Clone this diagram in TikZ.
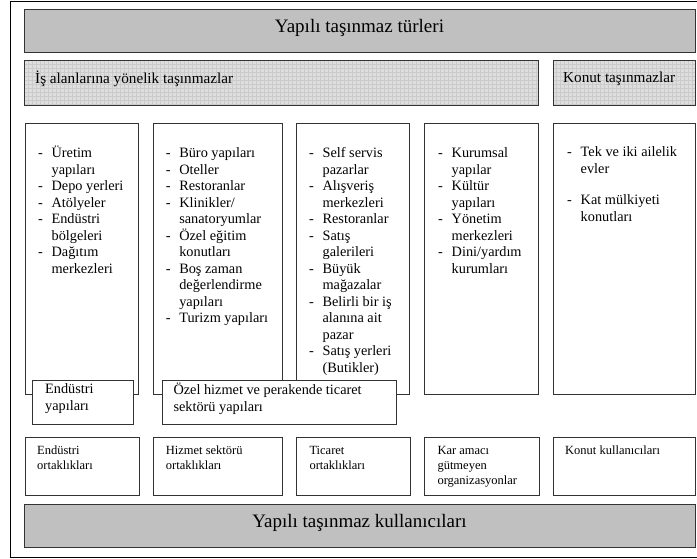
\documentclass[tikz,border=0pt]{standalone}
\usepackage{fontspec}
\setmainfont{Liberation Serif}
\definecolor{titlegray}{HTML}{C0C0C0}
\definecolor{gridgray}{HTML}{DEDEDE}
\definecolor{gridln}{HTML}{CBCBCB}
\newlength\lind
\lind=13.5pt
\newcommand\li[1]{\makebox[\lind][l]{-}#1}
\newcommand\lc[1]{\hspace*{\lind}#1}
\newcommand\bigst{\rule{0pt}{13pt}}
\newcommand\smst{\rule{0pt}{11pt}}
\begin{document}
\begin{tikzpicture}[x=1pt,y=-1pt,
  box/.style={draw=black!80, line width=0.8pt, fill=white, inner sep=0pt, outer sep=0pt, anchor=north west},
  titlebox/.style={box, fill=titlegray},
  gridbox/.style={fill=gridgray, inner sep=0pt, outer sep=0pt, anchor=north west},
  boxline/.style={draw=black!80, line width=0.8pt},
  gridline/.style={draw=gridln, line width=0.4pt},
  bigtxt/.style={font=\fontsize{19}{22}\selectfont, inner sep=0pt, anchor=base},
  rowtxt/.style={font=\fontsize{15.2}{18}\selectfont, inner sep=0pt, anchor=base west},
  listtxt/.style={font=\fontsize{14.3}{16.5}\selectfont, inner sep=0pt, anchor=north west, align=left},
  overtxt/.style={font=\fontsize{14.3}{17}\selectfont, inner sep=0pt, anchor=north west, align=left},
  smalltxt/.style={font=\fontsize{12.5}{14.8}\selectfont, inner sep=0pt, anchor=north west, align=left},
]
\useasboundingbox (0,0) rectangle (697,559);
% outer frame (right side is cut off in the reference)
\draw[line width=0.9pt] (697,1) -- (10,1) -- (10,557) -- (697,557);

% top title
\node[titlebox, minimum width=671pt, minimum height=43pt] (top) at (24,9) {};
\node[bigtxt] (toptxt) at (359.5,32.5) {Yapılı taşınmaz türleri};

% second row with grid fill
\node[gridbox, minimum width=514pt, minimum height=45pt] (is) at (24,60) {};
\node[gridbox, minimum width=142pt, minimum height=45pt] (konut) at (553,60) {};
\begin{scope}
  \clip (is.south west) rectangle (is.north east);
  \draw[gridline] (is.south west) grid[step=4pt] (is.north east);
\end{scope}
\begin{scope}
  \clip (konut.south west) rectangle (konut.north east);
  \draw[gridline] (konut.south west) grid[step=4pt] (konut.north east);
\end{scope}
\draw[boxline] (is.north west) rectangle (is.south east);
\draw[boxline] (konut.north west) rectangle (konut.south east);
\node[rowtxt] (istxt) at (35,83.5) {İş alanlarına yönelik taşınmazlar};
\node[rowtxt] (konuttxt) at (563,83) {Konut taşınmazlar};

% tall columns
\node[box, minimum width=113pt, minimum height=271pt] (c1) at (25,123) {};
\node[box, minimum width=129pt, minimum height=271pt] (c2) at (153,123) {};
\node[box, minimum width=113pt, minimum height=271pt] (c3) at (296,123) {};
\node[box, minimum width=114pt, minimum height=271pt] (c4) at (424,123) {};
\node[box, minimum width=142pt, minimum height=271pt] (c5) at (553,123) {};

\node[listtxt] (l1) at (37.9,144.5) {\bigst\li{Üretim}\\\lc{yapıları}\\\li{Depo yerleri}\\\li{Atölyeler}\\\li{Endüstri}\\\lc{bölgeleri}\\\li{Dağıtım}\\\lc{merkezleri}};
\node[listtxt] (l2) at (165.6,144.5) {\bigst\li{Büro yapıları}\\\li{Oteller}\\\li{Restoranlar}\\\li{Klinikler/}\\\lc{sanatoryumlar}\\\li{Özel eğitim}\\\lc{konutları}\\\li{Boş zaman}\\\lc{değerlendirme}\\\lc{yapıları}\\\li{Turizm yapıları}};
\node[listtxt] (l3) at (308.9,144.5) {\bigst\li{Self servis}\\\lc{pazarlar}\\\li{Alışveriş}\\\lc{merkezleri}\\\li{Restoranlar}\\\li{Satış}\\\lc{galerileri}\\\li{Büyük}\\\lc{mağazalar}\\\li{Belirli bir iş}\\\lc{alanına ait}\\\lc{pazar}\\\li{Satış yerleri}\\\lc{(Butikler)}};
\node[listtxt] (l4) at (438,144.5) {\bigst\li{Kurumsal}\\\lc{yapılar}\\\li{Kültür}\\\lc{yapıları}\\\li{Yönetim}\\\lc{merkezleri}\\\li{Dini/yardım}\\\lc{kurumları}};
\node[listtxt] (l5) at (567,143.5) {\bigst\li{Tek ve iki ailelik}\\\lc{evler}\\[15pt]\li{Kat mülkiyeti}\\\lc{konutları}};

% overlay boxes
\node[box, minimum width=101pt, minimum height=44pt] (o1) at (32,380) {};
\node[box, minimum width=234pt, minimum height=44pt] (o2) at (162,380) {};
\node[overtxt] (o1txt) at (45,380.5) {\bigst Endüstri\\yapıları};
\node[overtxt] (o2txt) at (173.3,381) {\bigst Özel hizmet ve perakende ticaret\\sektörü yapıları};

% bottom row
\node[box, minimum width=114pt, minimum height=58pt] (b1) at (25,437) {};
\node[box, minimum width=129pt, minimum height=58pt] (b2) at (153,437) {};
\node[box, minimum width=114pt, minimum height=58pt] (b3) at (296,437) {};
\node[box, minimum width=115pt, minimum height=58pt] (b4) at (424,437) {};
\node[box, minimum width=142pt, minimum height=58pt] (b5) at (553,437) {};
\node[smalltxt] (b1txt) at (37,443) {\smst Endüstri\\ortaklıkları};
\node[smalltxt] (b2txt) at (165.7,443) {\smst Hizmet sektörü\\ortaklıkları};
\node[smalltxt] (b3txt) at (309.3,443.5) {\smst Ticaret\\ortaklıkları};
\node[smalltxt] (b4txt) at (437.3,443.5) {\smst Kar amacı\\gütmeyen\\organizasyonlar};
\node[smalltxt] (b5txt) at (565,443.5) {\smst Konut kullanıcıları};

% bottom title
\node[titlebox, minimum width=671pt, minimum height=43pt] (bottom) at (24,504) {};
\node[bigtxt] (bottomtxt) at (359.5,527.5) {Yapılı taşınmaz kullanıcıları};
\end{tikzpicture}
\end{document}
